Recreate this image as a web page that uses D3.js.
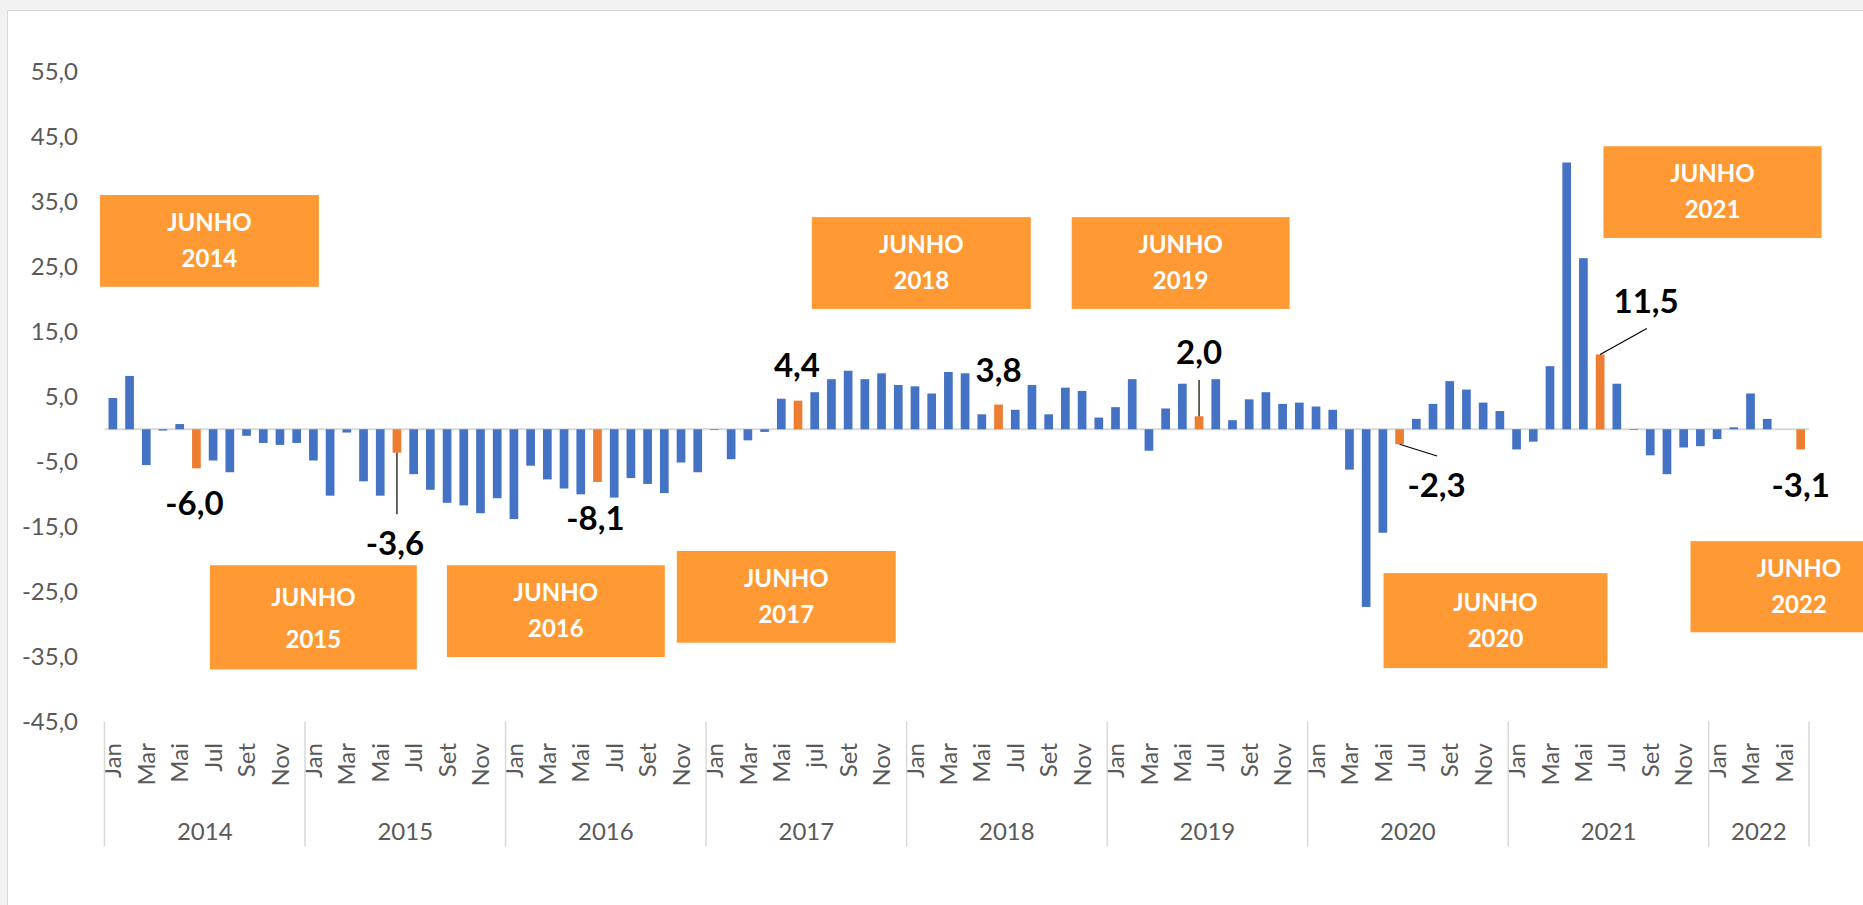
<!DOCTYPE html>
<html>
<head>
<meta charset="utf-8">
<script src="https://cdn.jsdelivr.net/npm/d3@7"></script>
<style>
  html, body { margin: 0; padding: 0; background: #f2f2f2; overflow: hidden; }
  svg { display: block; font-family: Lato, "Noto Sans", sans-serif; }
</style>
</head>
<body>
<svg id="chart" width="1863" height="905"></svg>
<script>
// Monthly variation (%) - Jan 2014 to Jun 2022. June of each year is highlighted.

var years = [2014, 2015, 2016, 2017, 2018, 2019, 2020, 2021, 2022];
var monthNames = ["Jan", "Fev", "Mar", "Abr", "Mai", "Jun", "Jul", "Ago", "Set", "Out", "Nov", "Dez"];
// Excel only printed every other month; 2017 had "jul" in lower case
var labelOverrides = { "2017-6": "jul" };

var v2014 = [4.8, 8.2, -5.5, -0.2, 0.8, -6.0, -4.8, -6.6, -1.0, -2.1, -2.4, -2.1];
var v2015 = [-4.8, -10.2, -0.5, -8.0, -10.2, -3.6, -6.9, -9.3, -11.3, -11.7, -12.9, -10.6];
var v2016 = [-13.8, -5.6, -7.7, -9.1, -10.0, -8.1, -10.5, -7.5, -8.4, -9.8, -5.1, -6.6];
var v2017 = [-0.1, -4.6, -1.7, -0.4, 4.7, 4.4, 5.7, 7.7, 9.0, 7.7, 8.6, 6.8];
var v2018 = [6.6, 5.5, 8.8, 8.6, 2.3, 3.8, 3.0, 6.8, 2.3, 6.4, 5.9, 1.8];
var v2019 = [3.4, 7.7, -3.3, 3.2, 7.0, 2.0, 7.7, 1.4, 4.6, 5.7, 3.9, 4.1];
var v2020 = [3.5, 3.0, -6.2, -27.3, -15.9, -2.3, 1.6, 3.9, 7.4, 6.1, 4.1, 2.8];
var v2021 = [-3.1, -1.9, 9.7, 41.0, 26.3, 11.5, 7.0, -0.1, -4.0, -6.9, -2.8, -2.6];
var v2022 = [-1.5, 0.3, 5.5, 1.6, 0.0, -3.1];
var series = [v2014, v2015, v2016, v2017, v2018, v2019, v2020, v2021, v2022];

var yTicks = [-45, -35, -25, -15, -5, 5, 15, 25, 35, 45, 55];
var highlightMonth = 5; // junho

// flatten into one row per month
var rows = [];
series.forEach(function(vals, yi) {
  vals.forEach(function(v, m) {
    rows.push({ i: rows.length, year: years[yi], month: m, value: v });
  });
});

var locale = d3.formatLocale({ decimal: ",", thousands: ".", grouping: [3], currency: ["R$", ""], minus: "-" });
var fmt = locale.format(".1f");

/*
  LAYOUT
*/
var svg = d3.select("#chart");
var plotLeft = 104.5, plotRight = 1809;

svg.append("rect")
  .attr("x", 7.5).attr("y", 10.5)
  .attr("width", 1900).attr("height", 1000)
  .attr("fill", "#fff").attr("stroke", "#d9d9d9");

var x = d3.scaleBand()
  .domain(rows.map(function(d) { return d.i; }))
  .range([plotLeft, plotRight])
  .paddingInner(0.48)
  .paddingOuter(0.24);

// continuous month position, used for the year separators and the boxes
var xm = d3.scaleLinear().domain([0, rows.length]).range([plotLeft, plotRight]);

var y = d3.scaleLinear().domain([-45, 55]).range([722.1, 71.4]);

// y axis, no line, only labels
var yAxis = svg.append("g")
  .attr("transform", "translate(78,0)")
  .call(d3.axisLeft(y).tickValues(yTicks).tickFormat(fmt).tickSize(0).tickPadding(0));
yAxis.select(".domain").remove();
yAxis.selectAll("text")
  .attr("font-family", "Lato, 'Noto Sans', sans-serif")
  .attr("font-size", 24)
  .attr("fill", "#595959");

// zero line
svg.append("line")
  .attr("x1", plotLeft).attr("x2", plotRight)
  .attr("y1", y(0)).attr("y2", y(0))
  .attr("stroke", "#d9d9d9").attr("stroke-width", 2);

// bars
svg.append("g").selectAll("rect")
  .data(rows)
  .enter().append("rect")
    .attr("x", function(d) { return x(d.i); })
    .attr("width", x.bandwidth())
    .attr("y", function(d) { return Math.min(y(d.value), y(0)); })
    .attr("height", function(d) { return Math.abs(y(d.value) - y(0)); })
    .attr("fill", function(d) { return d.month === highlightMonth ? "#ed7d31" : "#4472c4"; });

// month labels (rotated)
var xAxis = svg.append("g")
  .attr("transform", "translate(0,743)")
  .call(d3.axisBottom(x).tickSize(0).tickFormat(function(i) {
    var d = rows[i];
    if (d.month % 2 !== 0) return "";
    return labelOverrides[d.year + "-" + d.month] || monthNames[d.month];
  }));
xAxis.select(".domain").remove();
xAxis.selectAll("text")
  .attr("transform", "rotate(-90)")
  .attr("x", 0).attr("y", 0).attr("dy", "0.36em")
  .attr("text-anchor", "end")
  .attr("font-family", "Lato, 'Noto Sans', sans-serif")
  .attr("font-size", 24)
  .attr("fill", "#595959");

// year separators and year labels
var yearStarts = years.map(function(yr, k) { return k * 12; });
var seps = yearStarts.concat([rows.length]);
svg.append("g").selectAll("line")
  .data(seps)
  .enter().append("line")
    .attr("x1", function(d) { return xm(d); })
    .attr("x2", function(d) { return xm(d); })
    .attr("y1", 721.5).attr("y2", 846.5)
    .attr("stroke", "#d9d9d9").attr("stroke-width", 1.5);

svg.append("g").selectAll("text")
  .data(years)
  .enter().append("text")
    .attr("x", function(d, k) { return xm((yearStarts[k] + Math.min(yearStarts[k] + 12, rows.length)) / 2); })
    .attr("y", 840)
    .attr("text-anchor", "middle")
    .attr("font-size", 24)
    .attr("fill", "#595959")
    .text(function(d) { return d; });

/*
  JUNE ANNOTATIONS
*/
// boxes in chart units: month index (x0, x1) and value (top, bottom)
var boxes = [
  { year: 2014, x0: -0.27, x1: 12.83, top: 36.0, bottom: 21.9 },
  { year: 2015, x0: 6.31, x1: 18.69, top: -20.9, bottom: -36.9 },
  { year: 2016, x0: 20.49, x1: 33.53, top: -20.9, bottom: -35.0 },
  { year: 2017, x0: 34.25, x1: 47.35, top: -18.7, bottom: -32.8 },
  { year: 2018, x0: 42.33, x1: 55.43, top: 32.6, bottom: 18.5 },
  { year: 2019, x0: 57.88, x1: 70.92, top: 32.6, bottom: 18.5 },
  { year: 2020, x0: 76.54, x1: 89.94, top: -22.1, bottom: -36.7 },
  { year: 2021, x0: 89.70, x1: 102.75, top: 43.5, bottom: 29.4 },
  { year: 2022, x0: 94.91, x1: 107.89, top: -17.2, bottom: -31.2 }
];

var boxG = svg.append("g").selectAll("g")
  .data(boxes)
  .enter().append("g");

boxG.append("rect")
  .attr("x", function(d) { return xm(d.x0); })
  .attr("y", function(d) { return y(d.top); })
  .attr("width", function(d) { return xm(d.x1) - xm(d.x0); })
  .attr("height", function(d) { return y(d.bottom) - y(d.top); })
  .attr("fill", "#ff9933");

boxG.each(function(d) {
  var g = d3.select(this);
  var cx = (xm(d.x0) + xm(d.x1)) / 2;
  var h = y(d.bottom) - y(d.top);
  var mid = y(d.top) + h * 0.59;
  var gap = h > 100 ? 21 : 18;
  [["JUNHO", mid - gap], [String(d.year), mid + gap]].forEach(function(t) {
    g.append("text")
      .attr("x", cx).attr("y", t[1])
      .attr("text-anchor", "middle")
      .attr("font-size", 24)
      .attr("font-weight", "bold")
      .attr("fill", "#fff")
      .text(t[0]);
  });
});

// value labels on the June bars: offset from bar end (px), optional leader line end
var labelLayout = {
  2014: { dx: -2, dy: 46.7 },
  2015: { dx: -2, dy: 102.3, leader: [0, 61.6] },
  2016: { dx: -2, dy: 48 },
  2017: { dx: -1, dy: -23.4 },
  2018: { dx: 0, dy: -22.9 },
  2019: { dx: 0, dy: -52.3, leader: [0, -36.3] },
  2020: { dx: 37, dy: 52.4, leader: [37.5, 11.7] },
  2021: { dx: 46, dy: -41.8, leader: [46.7, -26] },
  2022: { dx: 0, dy: 47.8 }
};

var juneRows = rows.filter(function(d) { return d.month === highlightMonth; });
var lab = svg.append("g");
juneRows.forEach(function(d) {
  var L = labelLayout[d.year];
  var bx = x(d.i) + x.bandwidth() / 2;
  var by = y(d.value);
  if (L.leader) {
    lab.append("line")
      .attr("x1", bx).attr("y1", by)
      .attr("x2", bx + L.leader[0]).attr("y2", by + L.leader[1])
      .attr("stroke", "#000").attr("stroke-width", 1.2);
  }
  lab.append("text")
    .attr("x", bx + L.dx).attr("y", by + L.dy)
    .attr("text-anchor", "middle")
    .attr("font-size", 33)
    .attr("font-weight", "bold")
    .attr("fill", "#000")
    .text(fmt(d.value));
});
</script>
</body>
</html>
